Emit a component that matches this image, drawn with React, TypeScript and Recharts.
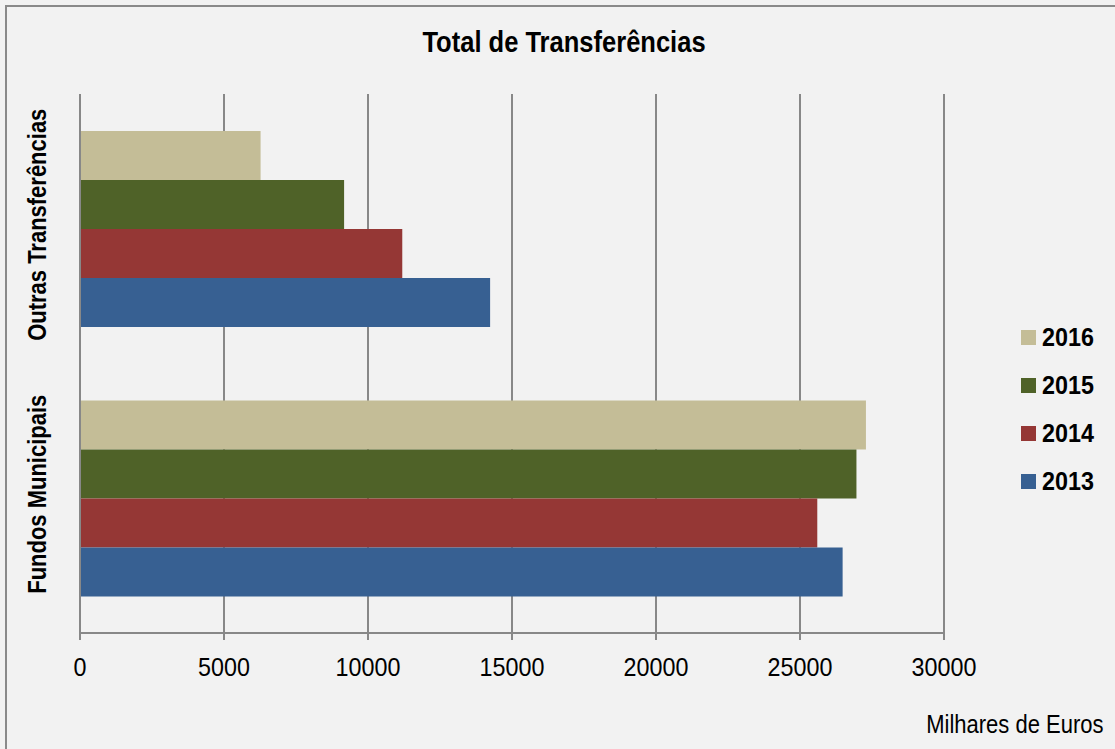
import { Bar, BarChart, CartesianGrid, XAxis, YAxis } from "recharts";

const categories = ["Outras Transferências", "Fundos Municipais"];
const years = ["2016", "2015", "2014", "2013"];
const values2016 = [6270, 27290];
const values2015 = [9170, 26960];
const values2014 = [11190, 25600];
const values2013 = [14240, 26480];
const xTicks = [0, 5000, 10000, 15000, 20000, 25000, 30000];
const colors = ["#c4bd97", "#4f6228", "#953735", "#376092"];

const seriesValues = [values2016, values2015, values2014, values2013];

const data = categories.map((name, i) => {
  const row: Record<string, string | number> = { name };
  years.forEach((y, j) => {
    row[y] = seriesValues[j][i];
  });
  return row;
});

// no narrow font installed, so squeeze Liberation Sans a bit
const FONT = "'Liberation Sans', Arial, sans-serif";
const SQUEEZE = 0.88;
const GRID = "#888888";

function CategoryTick(props: any) {
  const { x, y, payload } = props;
  const tx = x - 26;
  const ty = y - 4;
  return (
    <text
      transform={`translate(${tx}, ${ty}) rotate(-90) scale(${SQUEEZE}, 1)`}
      textAnchor="middle"
      fontFamily={FONT}
      fontWeight="bold"
      fontSize={25}
      fill="#000"
    >
      {payload.value}
    </text>
  );
}

function ValueTick(props: any) {
  const { x, y, payload } = props;
  return (
    <text
      transform={`translate(${x}, ${y}) scale(${SQUEEZE}, 1)`}
      textAnchor="middle"
      dy="0.71em"
      fontFamily={FONT}
      fontSize={26.5}
      fill="#000"
    >
      {payload.value}
    </text>
  );
}

export default function App() {
  return (
    <div
      style={{
        position: "absolute",
        left: 0,
        top: 0,
        width: 1115,
        height: 749,
        overflow: "hidden",
        background: "#f2f2f2",
        fontFamily: FONT,
      }}
    >
      <div
        style={{
          position: "absolute",
          left: 5,
          top: 5,
          width: 1200,
          height: 800,
          border: "2px solid #8a8a8a",
        }}
      />
      <div
        style={{
          position: "absolute",
          left: 0,
          top: 26,
          width: 1128,
          textAlign: "center",
          fontWeight: "bold",
          fontSize: 29,
          color: "#000",
          transform: `scaleX(${SQUEEZE})`,
        }}
      >
        Total de Transferências
      </div>
      <div style={{ position: "absolute", left: 0, top: 0 }}>
        <BarChart
          width={1115}
          height={749}
          data={data}
          layout="vertical"
          barGap={0}
          barSize={49}
          margin={{ top: 94, right: 171, left: 0, bottom: 0 }}
        >
          <CartesianGrid horizontal={false} stroke={GRID} strokeWidth={2} />
          <XAxis
            type="number"
            domain={[0, 30000]}
            ticks={xTicks}
            interval={0}
            height={116}
            axisLine={{ stroke: GRID, strokeWidth: 2 }}
            tickLine={{ stroke: GRID, strokeWidth: 2 }}
            tickSize={7}
            tickMargin={17}
            tick={<ValueTick />}
          />
          <YAxis
            type="category"
            dataKey="name"
            width={80}
            axisLine={{ stroke: GRID, strokeWidth: 2 }}
            tickLine={false}
            tick={<CategoryTick />}
          />
          {years.map((y, i) => (
            <Bar key={y} dataKey={y} fill={colors[i]} isAnimationActive={false} />
          ))}
        </BarChart>
      </div>
      {years.map((y, i) => (
        <div
          key={y}
          style={{
            position: "absolute",
            left: 1021,
            top: 322 + i * 48,
            height: 30,
            display: "flex",
            alignItems: "center",
          }}
        >
          <div style={{ width: 15, height: 15, background: colors[i], marginRight: 6 }} />
          <span
            style={{
              display: "inline-block",
              fontWeight: "bold",
              fontSize: 26.5,
              color: "#000",
              transform: `scaleX(${SQUEEZE})`,
              transformOrigin: "left center",
            }}
          >
            {y}
          </span>
        </div>
      ))}
      <div
        style={{
          position: "absolute",
          right: 12,
          top: 710,
          fontSize: 25,
          color: "#000",
          transform: `scaleX(${SQUEEZE})`,
          transformOrigin: "right center",
        }}
      >
        Milhares de Euros
      </div>
    </div>
  );
}
